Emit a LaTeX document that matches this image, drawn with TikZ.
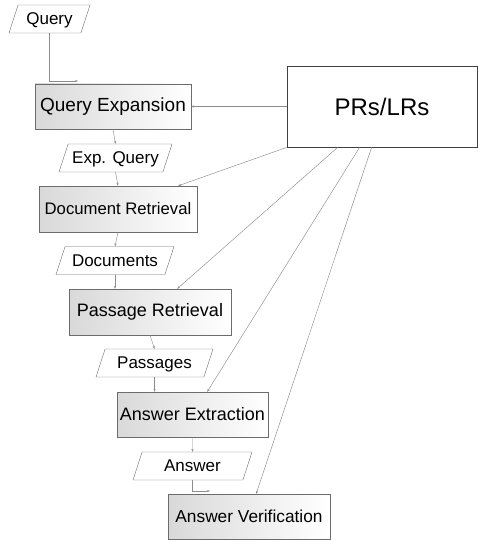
\documentclass[tikz,border=0pt]{standalone}
\usepackage{fontspec}
\setmainfont{Liberation Sans}
\usetikzlibrary{shapes.geometric,arrows.meta}
\begin{document}
\begin{tikzpicture}%
  [x=1pt,y=-1pt,font=\fontsize{17}{17}\selectfont,
   >={Stealth[length=3pt,width=2.2pt]}]
  \tikzstyle{box node}=[rectangle,draw=gray!85!black,left color=gray!30,right color=white,inner sep=0,minimum height=45pt]
  \tikzstyle{data node}=[trapezium,trapezium left angle=72,trapezium right angle=108,trapezium stretches body,draw=gray!85!black,text height=13pt,text depth=2pt,inner xsep=2pt,inner ysep=6.5pt,minimum height=28pt]
  \tikzstyle{link}=[draw=gray!90,line width=0.45pt,->]
  \useasboundingbox (0,0) rectangle (478,540);
  % main chain
  \node(q)[data node,minimum width=81pt] at (49.5,19){Query};
  \node(qe)[box node,minimum width=156pt,font=\fontsize{19}{19}\selectfont] at (113,106.5){Query Expansion};
  \node(eq)[data node,minimum width=113pt] at (115.5,158){Exp. Query};
  \node(dr)[box node,minimum width=158pt,minimum height=46pt,font=\fontsize{16.7}{17}\selectfont] at (118,209){Document Retrieval};
  \node(docs)[data node,minimum width=118pt] at (115,260.5){Documents};
  \node(pr)[box node,minimum width=162pt,minimum height=46pt,font=\fontsize{18}{18}\selectfont] at (150,312){Passage Retrieval};
  \node(pas)[data node,minimum width=117pt] at (154.5,363){Passages};
  \node(ae)[box node,minimum width=151pt,font=\fontsize{18}{18}\selectfont] at (192.5,414.5){Answer Extraction};
  \node(ans)[data node,minimum width=119pt] at (192.5,466){Answer};
  \node(av)[box node,minimum width=162pt,font=\fontsize{17.3}{18}\selectfont] at (249,516.5){Answer Verification};
  \node(res)[rectangle,draw=black!75,line width=0.9pt,fill=white,minimum width=190pt,minimum height=81pt,font=\fontsize{24}{24}\selectfont] at (382,106.5){PRs/LRs};
  \coordinate(qin) at (78,81);
  \coordinate(avin) at (210,491);
  \draw[link] (q.south) |- (qin);
  \draw[link] (qe.south) -- (eq.north);
  \draw[link] (eq.south) -- (dr.north);
  \draw[link] (dr.south) -- (docs.north);
  \draw[link] (docs.south) -- (docs.south |- pr.north);
  \draw[link] (pr.south) -- (pas.north);
  \draw[link] (pas.south) -- (pas.south |- ae.north);
  \draw[link] (ae.south) -- (ans.north);
  \draw[link] (ans.south) |- (avin);
  % resources
  \draw[link] (res.west) -- (qe.east);
  \draw[link] (res.south west) -- ([xshift=-19pt]dr.north east);
  \draw[link] ([xshift=51pt]res.south west) -- ([xshift=-54pt]pr.north east);
  \draw[link] ([xshift=73pt]res.south west) -- ([xshift=-61pt]ae.north east);
  \draw[link] ([xshift=85pt]res.south west) -- ([xshift=-74pt]av.north east);
\end{tikzpicture}
\end{document}
